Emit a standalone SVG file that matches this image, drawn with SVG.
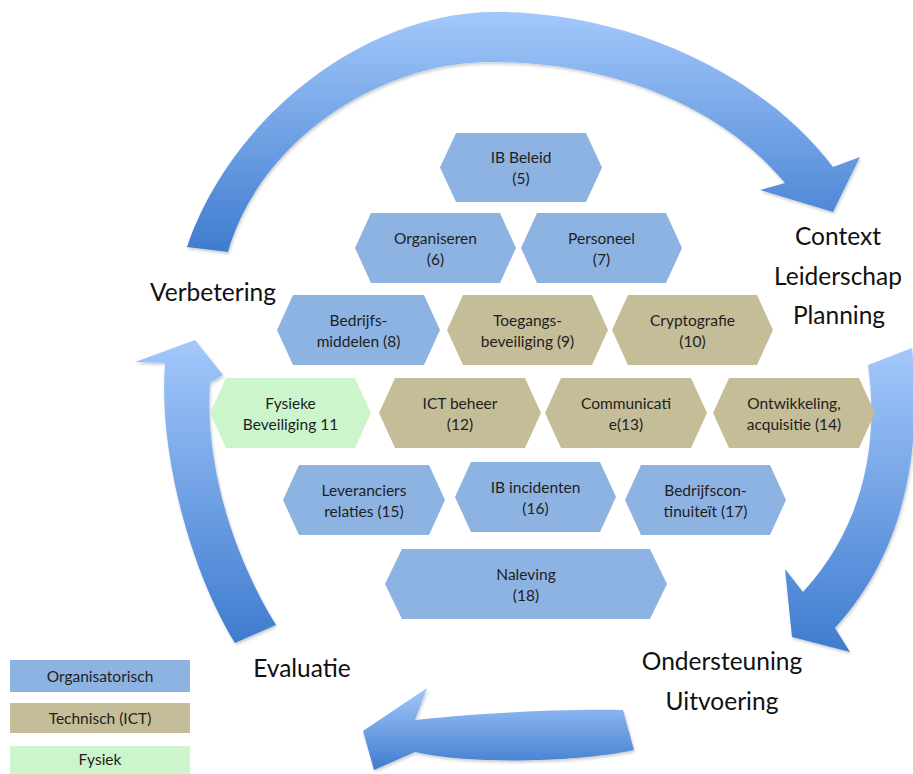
<svg xmlns="http://www.w3.org/2000/svg" width="913" height="774" viewBox="0 0 913 774">
<style>
.hex-org{fill:#8db3e2}
.hex-ict{fill:#c4bd97}
.hex-fys{fill:#ccf5cc}
.ht{font-family:Lato,"Liberation Sans",sans-serif;font-size:15.5px;fill:#1e1e1e;text-anchor:middle}
.lbl{font-family:Lato,"Liberation Sans",sans-serif;font-size:24.5px;fill:#111;text-anchor:middle}
.arrow{fill:url(#ag);filter:url(#sh)}
</style>
<defs>
<linearGradient id="ag" x1="0" y1="0" x2="0" y2="1">
<stop offset="0" stop-color="#a3c8fb"/>
<stop offset="1" stop-color="#3f7ccf"/>
</linearGradient>
<filter id="sh" x="-10%" y="-10%" width="120%" height="120%">
<feDropShadow dx="1" dy="2" stdDeviation="1.5" flood-color="#000" flood-opacity="0.2"/>
</filter>
</defs>
<g id="connectors">
<path id="arrow-top" class="arrow" d="M187,247 C230,120 360,15 490,12 C620,10 760,70 833,167 L860,157 L833,212 L760,190 L785,183 C720,105 610,62 490,62 C380,62 260,140 228,252 Z"/>
<path id="arrow-right" class="arrow" d="M868,365 L912,348 C920,430 915,540 835,628 L850,652 L792,637 L785,569 L803,592 C860,530 880,450 868,365 Z"/>
<path id="arrow-bottom" class="arrow" d="M623,710 C560,709 480,713 415,720 L427,688 L363,731 L374,770 L415,752 C470,765 580,762 634,750 Z"/>
<path id="arrow-left" class="arrow" d="M235,643 C190,570 158,450 165,363 L135,362 L195,340 L223,375 L210,383 C205,460 230,550 276,625 Z"/>
</g>
<g id="labels">
<text class="lbl" x="213" y="301">Verbetering</text>
<text class="lbl" x="838" y="245">Context</text>
<text class="lbl" x="838" y="285">Leiderschap</text>
<text class="lbl" x="839" y="324">Planning</text>
<text class="lbl" x="722" y="670">Ondersteuning</text>
<text class="lbl" x="722" y="710">Uitvoering</text>
<text class="lbl" x="302" y="677">Evaluatie</text>
</g>
<g id="n5"><polygon class="hex-org" points="440,167.5 456,133 586,133 602,167.5 586,202 456,202"/><text class="ht" x="521" y="163">IB Beleid</text><text class="ht" x="521" y="184">(5)</text></g>
<g id="n6"><polygon class="hex-org" points="355,248 371,213 500,213 516,248 500,283 371,283"/><text class="ht" x="435.5" y="243.5">Organiseren</text><text class="ht" x="435.5" y="264.5">(6)</text></g>
<g id="n7"><polygon class="hex-org" points="521,248 537,213 666,213 682,248 666,283 537,283"/><text class="ht" x="601.5" y="243.5">Personeel</text><text class="ht" x="601.5" y="264.5">(7)</text></g>
<g id="n8"><polygon class="hex-org" points="277,330 293,295 424,295 440,330 424,365 293,365"/><text class="ht" x="358.5" y="325.5">Bedrijfs-</text><text class="ht" x="358.5" y="346.5">middelen (8)</text></g>
<g id="n9"><polygon class="hex-ict" points="447,330 463,295 592,295 608,330 592,365 463,365"/><text class="ht" x="527.5" y="325.5">Toegangs-</text><text class="ht" x="527.5" y="346.5">beveiliging (9)</text></g>
<g id="n10"><polygon class="hex-ict" points="612,330 628,295 757,295 773,330 757,365 628,365"/><text class="ht" x="692.5" y="325.5">Cryptografie</text><text class="ht" x="692.5" y="346.5">(10)</text></g>
<g id="n11"><polygon class="hex-fys" points="210,413 226,378 355,378 371,413 355,448 226,448"/><text class="ht" x="290.5" y="408.5">Fysieke</text><text class="ht" x="290.5" y="429.5">Beveiliging 11</text></g>
<g id="n12"><polygon class="hex-ict" points="379,413 395,378 525,378 541,413 525,448 395,448"/><text class="ht" x="460" y="408.5">ICT beheer</text><text class="ht" x="460" y="429.5">(12)</text></g>
<g id="n13"><polygon class="hex-ict" points="545,413 561,378 691,378 707,413 691,448 561,448"/><text class="ht" x="626" y="408.5">Communicati</text><text class="ht" x="626" y="429.5">e(13)</text></g>
<g id="n14"><polygon class="hex-ict" points="713,413 729,378 859,378 875,413 859,448 729,448"/><text class="ht" x="794" y="408.5">Ontwikkeling,</text><text class="ht" x="794" y="429.5">acquisitie (14)</text></g>
<g id="n15"><polygon class="hex-org" points="283,500 299,465 429,465 445,500 429,535 299,535"/><text class="ht" x="364" y="495.5">Leveranciers</text><text class="ht" x="364" y="516.5">relaties (15)</text></g>
<g id="n16"><polygon class="hex-org" points="455,497 471,462 600,462 616,497 600,532 471,532"/><text class="ht" x="535.5" y="492.5">IB incidenten</text><text class="ht" x="535.5" y="513.5">(16)</text></g>
<g id="n17"><polygon class="hex-org" points="625,500 641,465 770,465 786,500 770,535 641,535"/><text class="ht" x="705.5" y="495.5">Bedrijfscon-</text><text class="ht" x="705.5" y="516.5">tinuiteït (17)</text></g>
<g id="n18"><polygon class="hex-org" points="385,584 402,549 650,549 667,584 650,619 402,619"/><text class="ht" x="526" y="579.5">Naleving</text><text class="ht" x="526" y="600.5">(18)</text></g>
<g id="legend">
<rect class="hex-org" x="10" y="660" width="180" height="32"/>
<text class="ht" x="100" y="681.5">Organisatorisch</text>
<rect class="hex-ict" x="10" y="703" width="180" height="30"/>
<text class="ht" x="100" y="723.5">Technisch (ICT)</text>
<rect class="hex-fys" x="10" y="746" width="180" height="28"/>
<text class="ht" x="100" y="765">Fysiek</text>
</g>
</svg>
